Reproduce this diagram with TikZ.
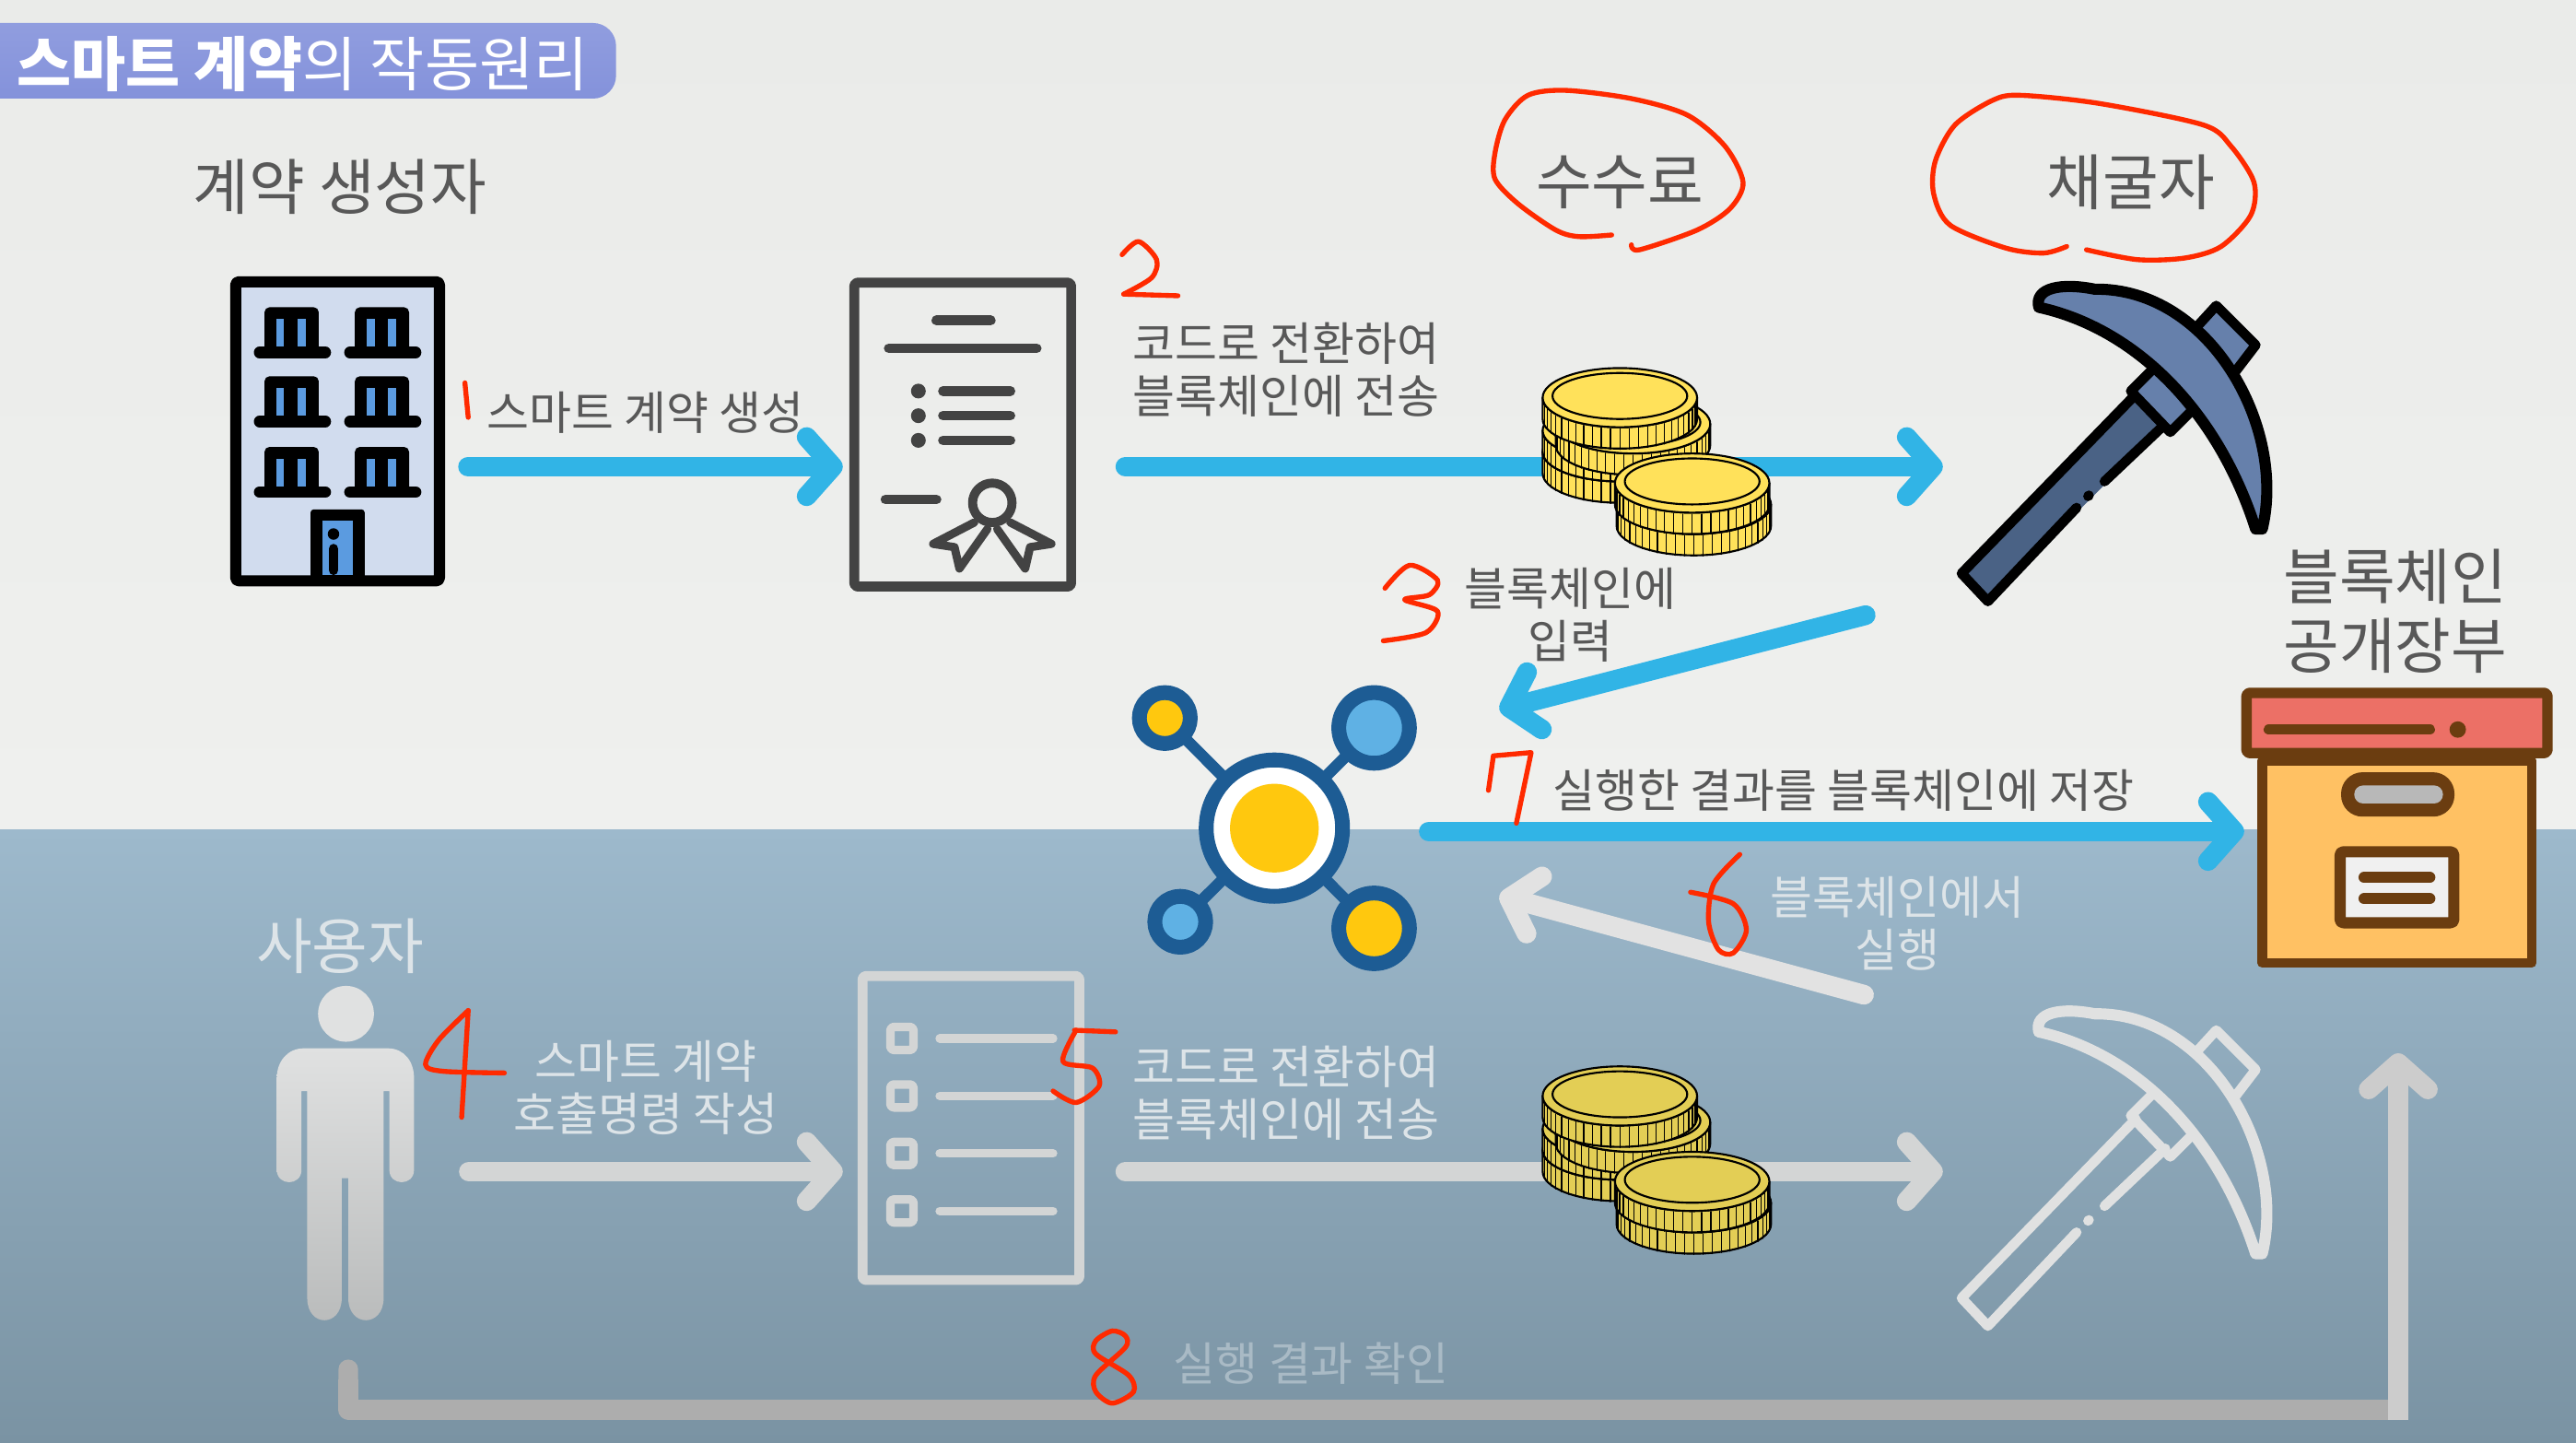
\documentclass[tikz,border=0pt]{standalone}
\usepackage{fontspec}
\setmainfont{Noto Sans CJK KR}
\usetikzlibrary{arrows.meta}
\definecolor{bgtop}{HTML}{EAEBE9}
\definecolor{bgmid}{HTML}{EFF0EE}
\definecolor{seatop}{HTML}{9DB9CC}
\definecolor{seabot}{HTML}{7A93A3}
\definecolor{pillblue}{HTML}{8492DB}
\definecolor{txtgray}{HTML}{585858}
\definecolor{txtpale}{HTML}{DDE4E8}
\definecolor{txtfaint}{HTML}{A9BAC5}
\definecolor{flowblue}{HTML}{31B4E6}
\definecolor{paleflow}{HTML}{D3D5D5}
\definecolor{docgray}{HTML}{434343}
\definecolor{figtop}{HTML}{E0E1E1}
\definecolor{figbot}{HTML}{B9BBBB}
\definecolor{bldfill}{HTML}{D1DCEE}
\definecolor{paneblue}{HTML}{5B9BE0}
\definecolor{pickblue}{HTML}{6680AB}
\definecolor{pickdark}{HTML}{4A6285}
\definecolor{hubblue}{HTML}{1D5C94}
\definecolor{hubyellow}{HTML}{FFC80E}
\definecolor{hubsky}{HTML}{5FB1E4}
\definecolor{boxbrown}{HTML}{6B3D10}
\definecolor{boxred}{HTML}{EC7066}
\definecolor{boxorange}{HTML}{FFC163}
\definecolor{coinbright}{HTML}{FFE15A}
\definecolor{coindull}{HTML}{E3CE55}
\definecolor{penred}{HTML}{FF2A00}
\tikzset{
  headtxt/.style={font=\fontsize{18.5}{21}\selectfont,text=txtgray,align=center,inner sep=0pt},
  smalltxt/.style={font=\fontsize{14}{16}\selectfont,text=txtgray,align=center,inner sep=0pt},
  flow/.style={draw=flowblue,line width=6pt,line cap=round,-{Straight Barb[length=8pt,width=18pt,round]}},
  paleline/.style={flow,draw=paleflow},
  hollow/.style={inner sep=0pt,minimum width=95pt,minimum height=95pt},
  docframe/.style={draw,line width=3pt,rounded corners=1pt,inner sep=0pt,minimum width=66pt,minimum height=92.5pt},
  bar/.style={line width=3pt,line cap=round},
  scribble/.style={draw=penred,line width=1.5pt,line cap=round,line join=round},
  hubdot/.style={circle,inner sep=0pt,draw=hubblue,line width=4.5pt},
  pics/coin/.style={code={
    \draw[fill=#1,line width=.6pt] (-47,0) -- (-47,13)
      arc[x radius=47,y radius=18,start angle=180,end angle=0]
      -- (47,0) arc[x radius=47,y radius=18,start angle=0,end angle=180] -- cycle;
    \foreach \a in {6,13,...,176}
      \draw[line width=.35pt] ({47*cos(\a)},{18*sin(\a)+1}) -- ++(0,12.5);
    \draw[fill=#1,line width=.6pt] (0,0) ellipse[x radius=47,y radius=18];
    \draw[line width=.6pt] (0,-1) ellipse[x radius=41,y radius=14];
  }},
  pics/coinstack/.style={code={
    \foreach \cx/\cy in {986/275,986/262,994/258,986/242,1031/307,1030/294}
      \pic at (\cx,\cy) {coin=#1};
  }},
  pics/pick/.style n args={3}{code={
    \fill[fill=#3] (1300,242) -- (1194,349) -- (1210,366) -- (1318,258) -- cycle;
    \draw[draw=#1,line width=3pt,line cap=round,line join=round]
      (1300,240) -- (1194,349) -- (1210,366) -- (1264,309)
      (1271,302) -- (1271.5,301.5)
      (1281,293) -- (1318,258);
    \draw[draw=#1,fill=#2,line width=3pt,line join=round]
      (1338,198) -- (1349,186) -- (1373,210) -- (1360,227);
    \draw[draw=#1,fill=#2,line width=3pt,line join=round]
      (1310,225) -- (1297,238) -- (1321,263) -- (1334,250);
    \draw[draw=#1,fill=#2,line width=3.4pt,line join=round]
      (1241,187) .. controls (1300,200) and (1350,250) .. (1373,322)
      -- (1377,322) .. controls (1392,260) and (1345,175) .. (1275,176)
      .. controls (1255,172) and (1238,175) .. (1241,187) -- cycle;
  }}
}
\begin{document}
\begin{tikzpicture}[x=.5pt,y=-.5pt,line cap=round,line join=round]
  \useasboundingbox (0,0) rectangle (1568,878);
  \clip (0,0) rectangle (1568,878);
  \shade[top color=bgtop,bottom color=bgmid] (0,0) rectangle (1568,506);
  \shade[top color=seatop,bottom color=seabot] (0,505) rectangle (1568,878);

  \shade[top color=pillblue!90!white,bottom color=pillblue,rounded corners=7pt]
    (-30,14) rectangle (375,60);
  \node[font=\fontsize{18}{22}\selectfont,text=white,anchor=west,inner sep=0pt] (title) at (10,39)
    {\textbf{스마트 계약}의 작동원리};

  \node[headtxt] (maker) at (207,114) {계약 생성자};
  \node[headtxt] (fee) at (986,111) {수수료};
  \node[headtxt] (minerlbl) at (1297,111) {채굴자};
  \node[headtxt,font=\fontsize{18.5}{21}\selectfont] (ledgerlbl) at (1458,372) {블록체인\\[.1pt]공개장부};
  \node[headtxt,text=txtpale] (userlbl) at (207,576) {사용자};

  \node[smalltxt] (createlbl) at (393,251) {스마트 계약 생성};
  \node[smalltxt] (codelbl) at (783,225) {코드로 전환하여\\블록체인에 전송};
  \node[smalltxt] (inputlbl) at (956,374) {블록체인에\\입력};
  \node[smalltxt] (savelbl) at (1122,481) {실행한 결과를 블록체인에 저장};
  \node[smalltxt,text=txtpale] (runlbl) at (1155,562) {블록체인에서\\실행};
  \node[smalltxt,text=txtpale] (calllbl) at (393,662) {스마트 계약\\호출명령 작성};
  \node[smalltxt,text=txtpale] (codelblb) at (783,665) {코드로 전환하여\\블록체인에 전송};
  \node[smalltxt,text=txtfaint] (checklbl) at (798,830) {실행 결과 확인};

  \node[draw=black,fill=bldfill,line width=3.4pt,rounded corners=1pt,inner sep=0pt,
    minimum width=62pt,minimum height=91pt] (building) at (205.5,262.5) {};
  \foreach \wx in {0,55}
    \foreach \wy in {0,42,85} {
      \fill[black,rounded corners=1.5pt] (161+\wx,187+\wy) rectangle (194+\wx,214+\wy);
      \fill[paneblue] (168+\wx,194+\wy) rectangle (173+\wx,211+\wy);
      \fill[paneblue] (181+\wx,194+\wy) rectangle (186+\wx,211+\wy);
      \draw[line width=3.5pt] (158+\wx,214.5+\wy) -- (198+\wx,214.5+\wy);
    }
  \fill[black,rounded corners=1pt] (189,310) rectangle (222,354);
  \fill[paneblue] (196,317) rectangle (215,350);
  \fill[black] (203,325) circle[radius=3.5];
  \draw[line width=3pt] (203,334) -- (203,347);

  \node[docframe,draw=docgray] (contract) at (586,264.5) {};
  \draw[bar,docgray] (570,195) -- (603,195);
  \draw[bar,docgray] (541,212) -- (631,212);
  \foreach \ly in {238,253,268} {
    \fill[docgray] (559,\ly) circle[radius=4.5];
    \draw[bar,docgray] (574,\ly) -- (615,\ly);
  }
  \draw[bar,docgray] (539,304) -- (570,304);
  \draw[docgray,line width=2.75pt] (604,306) circle[radius=12];
  \draw[docgray,line width=2.5pt] (593,318) -- (568,331) -- (581,333) -- (584,346) -- (601,322);
  \draw[docgray,line width=2.5pt] (615,318) -- (640,331) -- (627,333) -- (624,346) -- (607,322);

  \node[hubdot,fill=white,minimum size=41.5pt] (hub) at (775.7,504) {};
  \node[circle,fill=hubyellow,inner sep=0pt,minimum size=27pt] (hubcore) at (hub) {};
  \node[hubdot,fill=hubyellow,minimum size=15.5pt] (sata) at (709,437) {};
  \node[hubdot,fill=hubsky,minimum size=21.5pt] (satb) at (836.4,443) {};
  \node[hubdot,fill=hubsky,minimum size=15.5pt] (satc) at (718.4,561) {};
  \node[hubdot,fill=hubyellow,minimum size=21.5pt] (satd) at (836.4,565) {};
  \foreach \sat in {sata,satb,satc,satd}
    \draw[hubblue,line width=3.5pt] (hub) -- (\sat);

  \node[hollow] (miner) at (1288,271) {};
  \node[hollow] (minerb) at (1288,712) {};
  \pic at (0,0) {pick={black}{pickblue}{pickdark}};
  \pic at (0,441) {pick={figtop}{none}{none}};

  \node[draw=boxbrown,fill=boxorange,line width=3pt,inner sep=0pt,minimum width=82pt,minimum height=61.5pt] (ledger) at (1459,524.5) {};
  \node[draw=boxbrown,fill=boxred,line width=3.2pt,rounded corners=1pt,inner sep=0pt,minimum width=91.6pt,minimum height=18.3pt] (lid) at (1459,440) {};
  \draw[boxbrown,line width=3.2pt] (1381,444) -- (1479,444);
  \fill[boxbrown] (1496,444) circle[radius=5];
  \fill[boxbrown,rounded corners=6.5pt] (1425,470) rectangle (1494,497);
  \fill[black!28,rounded corners=2.7pt] (1433,478) rectangle (1487,489);
  \node[draw=boxbrown,fill=black!6,line width=3.4pt,inner sep=0pt,rounded corners=1pt,minimum width=34.6pt,minimum height=21.6pt] (tag) at (1459,540) {};
  \draw[boxbrown,line width=3.4pt] (1439,534) -- (1479,534);
  \draw[boxbrown,line width=3.4pt] (1439,547) -- (1479,547);

  \node[inner sep=0pt,minimum width=42pt,minimum height=101pt] (person) at (210,703) {};
  \fill[figtop] (210.6,617) circle[radius=17];
  \shade[top color=figtop,bottom color=figbot]
    (185,638) -- (236,638) .. controls (246,638) and (252,646) .. (252,656)
    -- (252,712) .. controls (252,722) and (237,722) .. (237,712)
    -- (237,664) -- (233.5,664) -- (233.5,790) .. controls (233.5,808) and (212,808) .. (212,790)
    -- (212,717) -- (208,717) -- (208,790) .. controls (208,808) and (187,808) .. (187,790)
    -- (187,664) -- (183.5,664) -- (183.5,712) .. controls (183.5,722) and (168.5,722) .. (168.5,712)
    -- (168.5,656) .. controls (168.5,646) and (175,638) .. (185,638) -- cycle;

  \node[docframe,draw=paleflow] (checklist) at (591,686.5) {};
  \foreach \ly in {632,667,702,737} {
    \draw[paleflow,line width=2.6pt,rounded corners=1pt] (542,\ly-7) rectangle (556,\ly+7);
    \draw[paleflow,line width=2.6pt,line cap=round] (572,\ly) -- (641,\ly);
  }

  \draw[flow] ([shift={(14,21.5)}]building.east) -- ([shift={(-4,19.5)}]contract.west);
  \draw[flow] ([shift={(30,19.5)}]contract.east) -- ([shift={(-10,13)}]miner.west);
  \draw[flow] ([shift={(-57,8)}]miner.south west) -- ([shift={(91,-72)}]hub.east);
  \draw[flow] ([shift={(48,2)}]hub.east) -- ([shift={(-8,-18.5)}]ledger.west);
  \draw[paleline,draw=figtop!95!white] ([shift={(-58,-202)}]minerb.south west) -- ([shift={(91,41)}]hub.east);
  \draw[paleline] ([shift={(33,10)}]person.east) -- ([shift={(-9,26.5)}]checklist.west);
  \draw[paleline] ([shift={(25,26.5)}]checklist.east) -- ([shift={(-10,1)}]minerb.west);

  \pic at (0,0) {coinstack=coinbright};
  \pic at (0,425) {coinstack=coindull};

  \coordinate (retcorner) at (1465.8,858);
  \draw[draw=black!32,line width=6pt,line cap=butt,{Round Cap[]}-] ([shift={(2,23)}]person.south) |- (retcorner);
  \draw[paleline,line cap=butt,draw=black!20] ([shift={(-6,6)}]retcorner) -- ([shift={(.8,52)}]ledger.south);

  \draw[scribble,smooth] plot coordinates {
    (981,143) (961,144) (947,140) (924,124) (910,109) (910,93) (916,73) (930,58) (953,55)
    (993,60) (1027,70) (1050,89) (1061,111) (1053,127) (1033,140) (998,152) (993,149)
  };
  \draw[scribble,smooth] plot coordinates {
    (1258,150) (1244,154) (1221,151) (1187,137) (1177,118) (1178,98) (1190,76) (1213,61) (1230,58)
    (1278,63) (1341,76) (1358,89) (1372,111) (1370,131) (1352,150) (1330,157) (1301,158) (1270,152)
  };
  \draw[scribble] (283,233) -- (285,254);
  \draw[scribble,smooth] plot coordinates {(683,155) (693,147) (704,158) (701,169) (684,179)};
  \draw[scribble] (684,179) -- (717,180);
  \draw[scribble,smooth] plot coordinates {
    (843,358) (858,344) (875,353) (870,362) (855,365) (875,372) (868,385) (842,390)
  };
  \draw[scribble,smooth] plot coordinates {(285,615) (267,633) (259,648) (270,652) (307,653)};
  \draw[scribble] (285,615) -- (281,680);
  \draw[scribble] (679,628) -- (654,627);
  \draw[scribble,smooth] plot coordinates {(655,627) (647,646) (665,650) (669,661) (655,671) (641,664)};
  \draw[scribble,smooth] plot coordinates {
    (1059,520) (1043,538) (1040,561) (1046,578) (1055,580) (1063,566) (1055,550) (1029,543)
  };
  \draw[scribble] (906,481) -- (909,460) -- (932,458) -- (923,501);
  \draw[scribble,smooth cycle] plot coordinates {
    (677,810) (667,816) (667,824) (687,837) (690,847) (677,854) (667,847) (667,837) (685,820) (685,813)
  };
\end{tikzpicture}
\end{document}
